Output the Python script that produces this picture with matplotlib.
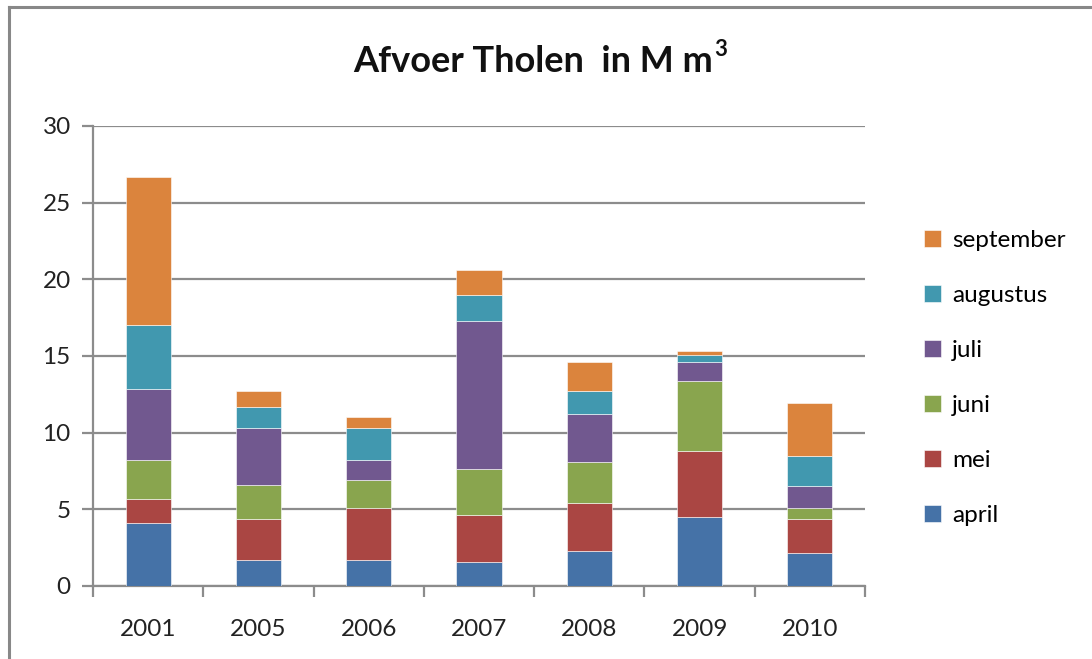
import matplotlib
matplotlib.use("Agg")
import matplotlib.pyplot as plt
from matplotlib.lines import Line2D
import numpy as np

years = ["2001", "2005", "2006", "2007", "2008", "2009", "2010"]
april = [4.1, 1.7, 1.7, 1.55, 2.3, 4.5, 2.15]
mei = [1.6, 2.65, 3.4, 3.1, 3.1, 4.3, 2.2]
juni = [2.55, 2.25, 1.8, 3.0, 2.7, 4.6, 0.75]
juli = [4.6, 3.7, 1.35, 9.65, 3.1, 1.2, 1.45]
augustus = [4.15, 1.35, 2.05, 1.65, 1.5, 0.45, 1.95]
september = [9.7, 1.05, 0.75, 1.65, 1.9, 0.3, 3.45]

series = [("april", april, "#4572A7"), ("mei", mei, "#AA4643"),
          ("juni", juni, "#89A54E"), ("juli", juli, "#71588F"),
          ("augustus", augustus, "#4198AF"), ("september", september, "#DB843D")]

plt.rcParams['font.family'] = ['Lato', 'DejaVu Sans']

fig = plt.figure(figsize=(10.92, 6.59), dpi=100)
ax = fig.add_axes([93/1092, 1-586/659, (865-93)/1092, (586-126)/659])

x = np.arange(len(years))
bottom = np.zeros(len(years))
handles = []
for name, vals, col in series:
    b = ax.bar(x, vals, width=0.41, bottom=bottom, color=col, label=name,
               edgecolor='white', linewidth=0.4, zorder=3)
    bottom += np.array(vals)
    handles.append(b)

gc = '#8c8c8c'
ax.set_ylim(0, 30)
ax.set_xlim(-0.5, len(years) - 0.5)
ax.set_yticks(np.arange(0, 31, 5))
ax.yaxis.grid(True, color=gc, linewidth=1.6, zorder=0)
ax.set_axisbelow(True)
for s in ['top', 'right']:
    ax.spines[s].set_visible(False)
for s in ['left', 'bottom']:
    ax.spines[s].set_color(gc)
    ax.spines[s].set_linewidth(1.6)

ax.set_xticks(x)
ax.set_xticklabels(years)
ax.set_xticks(np.arange(-0.5, len(years), 1), minor=True)
ax.tick_params(axis='x', which='major', length=0, pad=24, labelsize=17.5, colors='#222222')
ax.tick_params(axis='x', which='minor', length=8, width=1.6, color=gc)
ax.tick_params(axis='y', length=8, width=1.6, color=gc, pad=8, labelsize=17.5, labelcolor='#222222')

# title with small superscript
t1 = fig.text(353/1092, 1-62/659, "Afvoer Tholen  in M m", ha='left', va='center',
              fontsize=26, fontweight='bold', color='#111111')
fig.canvas.draw()
bb = t1.get_window_extent(renderer=fig.canvas.get_renderer())
fig.text((bb.x1 + 1)/1092, 1-50/659, "3", ha='left', va='center',
         fontsize=16, fontweight='bold', color='#111111')

leg = fig.legend(handles[::-1], [s[0] for s in series][::-1],
                 loc='upper left', bbox_to_anchor=(912/1092, 1-218/659),
                 frameon=False, fontsize=17.5, handlelength=0.7, handleheight=0.7,
                 labelspacing=1.4, handletextpad=0.45, borderpad=0)

fig.add_artist(Line2D([9/1092, 9/1092], [0, 1-7/659], color='#888888', linewidth=2.2))
fig.add_artist(Line2D([9/1092, 1], [1-7/659, 1-7/659], color='#888888', linewidth=2.2))

fig.savefig("out.png", dpi=100)
